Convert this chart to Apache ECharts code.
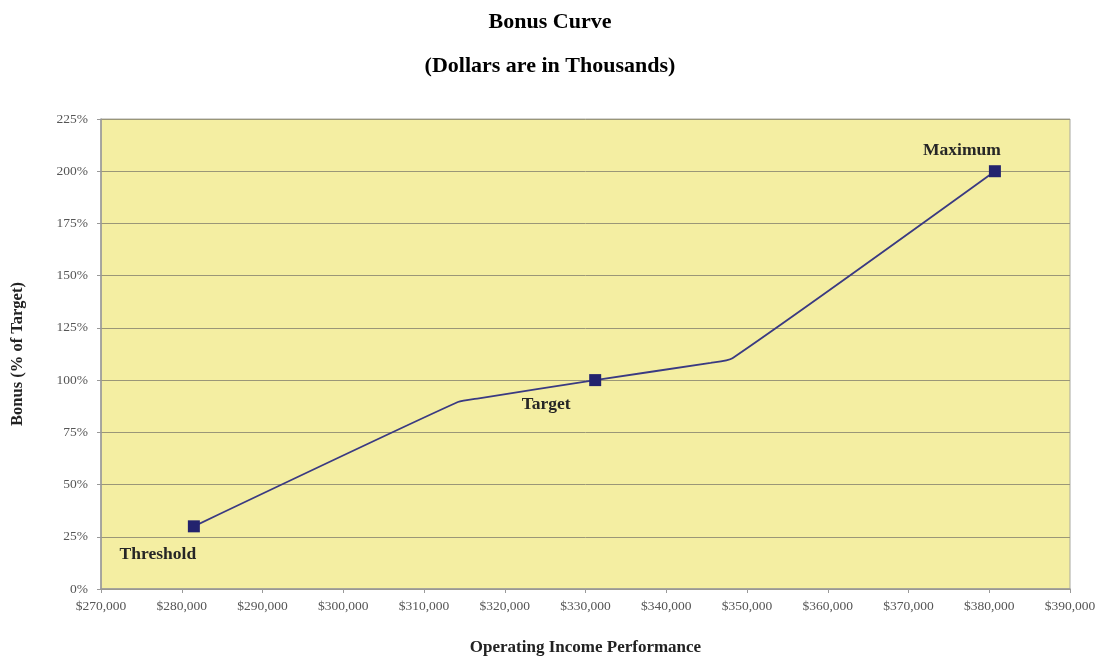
<!DOCTYPE html>
<html><head><meta charset="utf-8">
<script src="https://cdn.jsdelivr.net/npm/echarts@6/dist/echarts.min.js"></script>
<style>html,body{margin:0;padding:0;background:#fff}#c{width:1100px;height:657px}</style>
</head><body><div id="c"></div>
<script>
// Curve points (operating income $, bonus %)
var curveX = [281500, 314200, 316800, 331200, 345500, 348200, 380700];
var curveY = [30, 89.5, 91.3, 100, 108.3, 110.5, 200];
// Labelled milestone points
var milestoneNames = ['Threshold', 'Target', 'Maximum'];
var milestoneX = [281500, 331200, 380700];
var milestoneY = [30, 100, 200];

var serif = '"Liberation Serif", "DejaVu Serif", serif';
var labelOffsets = [[-36, 28], [-49, 24], [-33, -21]];

var chart = echarts.init(document.getElementById('c'));
chart.setOption({
  animation: false,
  backgroundColor: '#fff',
  title: [
    {text: 'Bonus Curve', left: 'center', top: 6, textStyle: {fontFamily: serif, fontSize: 22, fontWeight: 'bold', color: '#000'}},
    {text: '(Dollars are in Thousands)', left: 'center', top: 50, textStyle: {fontFamily: serif, fontSize: 22, fontWeight: 'bold', color: '#000'}}
  ],
  grid: {left: 101, right: 30, top: 119, bottom: 68, containLabel: false, outerBoundsMode: 'none',
    show: true, backgroundColor: '#F4EEA2', borderColor: '#A8A8A0', borderWidth: 1},
  xAxis: {
    type: 'value', min: 270000, max: 390000, interval: 10000,
    name: 'Operating Income Performance', nameLocation: 'middle', nameGap: 50,
    nameTextStyle: {fontFamily: serif, fontSize: 17, fontWeight: 'bold', color: '#222'},
    axisLine: {show: true, onZero: false, lineStyle: {color: '#999', width: 1.5}},
    axisTick: {show: true, length: 4, lineStyle: {color: '#999'}},
    axisLabel: {fontFamily: serif, fontSize: 13.5, color: '#555', margin: 10, hideOverlap: false,
      formatter: function (v) { return '$' + v.toLocaleString('en-US'); }},
    splitLine: {show: false}
  },
  yAxis: {
    type: 'value', min: 0, max: 225, interval: 25,
    name: 'Bonus (% of Target)', nameLocation: 'middle', nameGap: 75, nameRotate: 90,
    nameTextStyle: {fontFamily: serif, fontSize: 16.5, fontWeight: 'bold', color: '#222'},
    axisLine: {show: true, lineStyle: {color: '#999', width: 1.5}},
    axisTick: {show: true, length: 4, lineStyle: {color: '#999'}},
    axisLabel: {fontFamily: serif, fontSize: 13.5, color: '#555', margin: 13, formatter: '{value}%'},
    splitLine: {show: true, lineStyle: {color: '#9A9678', width: 1}}
  },
  series: [
    {
      type: 'line', smooth: 0.2, symbol: 'none',
      lineStyle: {color: '#3A3A82', width: 1.8},
      data: curveX.map(function (x, i) { return [x, curveY[i]]; }),
      z: 2
    },
    {
      type: 'scatter', symbol: 'rect', symbolSize: 12,
      itemStyle: {color: '#23236E', opacity: 1},
      data: milestoneX.map(function (x, i) {
        return {value: [x, milestoneY[i]], name: milestoneNames[i],
          label: {show: true, formatter: milestoneNames[i], offset: labelOffsets[i], position: 'inside',
            fontFamily: serif, fontSize: 17.5, fontWeight: 'bold', color: '#262626', opacity: 1}};
      }),
      z: 3
    }
  ]
});
</script></body></html>
